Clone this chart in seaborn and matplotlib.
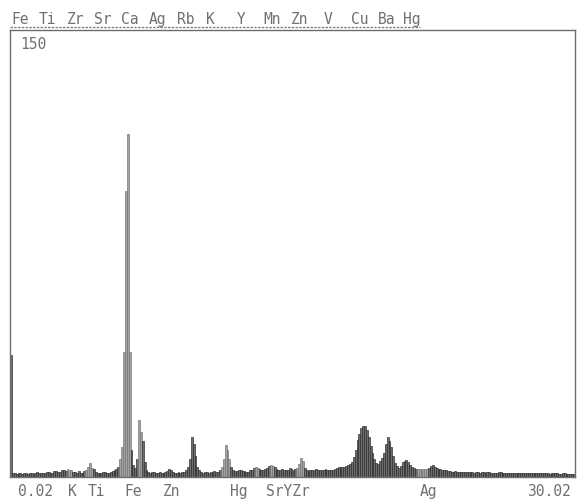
import numpy as np
import pandas as pd
import matplotlib
matplotlib.use("Agg")
import matplotlib.pyplot as plt
import seaborn as sns

# spectrum: 300 channels of 0.1 keV from 0.02 to 30.02 keV
e_start = 0.02
e_stop = 30.02
counts = [
    41, 1.2, 1.2, 1.0, 1.5, 1.3, 1.0, 1.2, 1.4, 1.1,
    1.3, 1.5, 1.0, 1.2, 1.6, 1.3, 1.2, 1.5, 1.4, 1.7,
    1.8, 1.4, 1.5, 2.0, 2.0, 1.6, 1.7, 2.2, 2.2, 2.0,
    2.8, 2.5, 2.4, 1.8, 1.6, 1.4, 1.9, 1.5, 1.4, 2.0,
    2.5, 3.2, 4.7, 3.0, 2.6, 1.8, 1.5, 1.3, 1.3, 1.6,
    1.8, 1.5, 1.5, 1.8, 2.0, 2.4, 2.6, 3.5, 6.0, 10.0,
    42, 96, 115, 42, 9.0, 4.0, 3.0, 6.0, 19, 15,
    12, 5.0, 2.5, 1.8, 1.5, 1.7, 1.8, 1.4, 1.3, 1.6,
    1.5, 1.3, 1.6, 2.0, 2.6, 2.2, 1.7, 1.5, 1.4, 1.6,
    1.5, 1.7, 1.8, 2.4, 3.5, 6.0, 13.4, 11.0, 7.0, 3.5,
    2.2, 1.8, 1.5, 1.7, 1.8, 1.5, 1.6, 1.8, 1.9, 1.6,
    1.7, 2.2, 3.5, 6.0, 10.7, 9.0, 6.0, 3.5, 2.2, 2.0,
    2.0, 2.3, 2.4, 2.1, 2.0, 1.8, 1.8, 2.2, 2.5, 3.0,
    3.4, 2.9, 2.6, 2.3, 2.2, 2.6, 3.0, 3.6, 4.0, 3.7,
    3.5, 2.8, 2.4, 2.2, 2.6, 2.4, 2.3, 2.5, 2.9, 2.7,
    2.5, 2.6, 3.0, 4.5, 6.4, 5.5, 3.0, 2.4, 2.0, 2.2,
    2.3, 2.5, 2.6, 2.4, 2.3, 2.2, 2.4, 2.6, 2.5, 2.3,
    2.3, 2.5, 2.6, 3.0, 3.4, 3.3, 3.5, 3.4, 3.6, 3.9,
    4.2, 5.0, 6.7, 9.0, 12.4, 14.5, 16.4, 17.1, 17.1, 15.8,
    13.4, 10.5, 8.0, 6.0, 4.7, 4.5, 5.5, 6.5, 8.0, 11.0,
    13.4, 12.0, 10.0, 7.0, 4.7, 3.8, 3.0, 3.8, 5.0, 5.5,
    5.7, 5.2, 4.0, 3.4, 3.0, 2.8, 2.7, 2.6, 2.6, 2.7,
    2.7, 2.8, 3.0, 3.6, 4.0, 3.4, 3.0, 2.8, 2.7, 2.5,
    2.4, 2.2, 2.0, 1.9, 1.8, 1.7, 1.9, 1.8, 1.7, 1.8,
    1.8, 1.7, 1.6, 1.7, 1.7, 1.6, 1.5, 1.7, 1.7, 1.5,
    1.6, 1.7, 1.5, 1.6, 1.6, 1.4, 1.4, 1.5, 1.5, 1.6,
    1.6, 1.4, 1.4, 1.5, 1.5, 1.3, 1.3, 1.5, 1.5, 1.4,
    1.4, 1.3, 1.3, 1.4, 1.4, 1.3, 1.2, 1.4, 1.4, 1.2,
    1.3, 1.2, 1.2, 1.3, 1.3, 1.2, 1.1, 1.3, 1.3, 1.2,
    1.2, 1.1, 1.1, 1.2, 1.2, 1.1, 1.0, 1.1, 1.1, 1.0,
]
# channels drawn in lighter grey (identified lines)
light_channels = [30, 31, 32, 40, 41, 42, 43, 58, 59, 60, 61, 62, 63, 68, 69,
                  112, 113, 114, 115, 116, 130, 131, 138, 139,
                  152, 153, 154, 155, 216, 217, 218, 219, 220, 221]

top_labels = ["Fe", "Ti", "Zr", "Sr", "Ca", "Ag", "Rb", "K", "Y", "Mn",
              "Zn", "V", "Cu", "Ba", "Hg"]
top_label_px = [11, 39, 67, 94, 121, 149, 177, 206, 237, 263, 291, 324, 351, 378, 403]
bottom_labels = ["0.02", "K", "Ti", "Fe", "Zn", "Hg", "SrYZr", "Ag", "30.02"]
bottom_label_px = [18, 68, 88, 124, 163, 230, 266, 420, 527]

n = len(counts)
width = (e_stop - e_start) / n
df = pd.DataFrame({"energy": [e_start + width * (i + 0.5) for i in range(n)],
                   "counts": counts})

fig = plt.figure(figsize=(5.79, 4.99), dpi=100)
fig.patch.set_facecolor("white")
ax = fig.add_axes([10 / 579, 22 / 499, 565 / 579, 447 / 499])

sns.histplot(data=df, x="energy", weights="counts", bins=n,
             binrange=(e_start, e_stop), ax=ax,
             color="#6e6e6e", edgecolor="#262626", linewidth=0.45, alpha=1)

for i, p in enumerate(ax.patches):
    if i in light_channels:
        p.set_facecolor("#a2a2a2")
        p.set_edgecolor("#707070")

ax.set_xlim(e_start, e_stop)
ax.set_ylim(0, 150)
ax.set_xticks([])
ax.set_yticks([])
ax.set_xlabel("")
ax.set_ylabel("")
for s in ax.spines.values():
    s.set_color("#6e6e6e")
    s.set_linewidth(1.0)
ax.spines["top"].set_linestyle((0, (2, 1)))

font = dict(family="DejaVu Sans Mono", color="#707070", fontsize=10.5)
ax.text(0.018, 0.985, "150", transform=ax.transAxes, va="top", ha="left", **font)

for lab, x in zip(top_labels, top_label_px):
    fig.text(x / 579, 1 - 24 / 499, lab, va="baseline", ha="left", **font)
fig.add_artist(plt.Line2D([10 / 579, 420 / 579], [1 - 27 / 499] * 2,
                          color="#7a7a7a", lw=0.9, ls=(0, (2, 1))))
for lab, x in zip(bottom_labels, bottom_label_px):
    fig.text(x / 579, 1 - 496 / 499, lab, va="baseline", ha="left", **font)

fig.savefig("out.png", dpi=100)
